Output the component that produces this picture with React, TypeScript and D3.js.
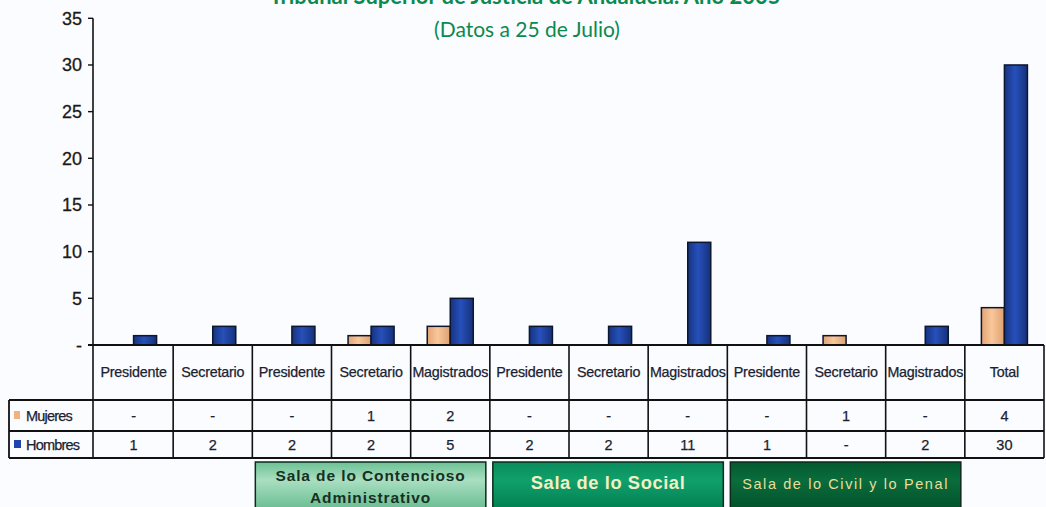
import React from "react";
import * as d3 from "d3";

const categories = ["Presidente","Secretario","Presidente","Secretario","Magistrados","Presidente","Secretario","Magistrados","Presidente","Secretario","Magistrados","Total"];
const mujeres = [0,0,0,1,2,0,0,0,0,1,0,4];
const hombres = [1,2,2,2,5,2,2,11,1,0,2,30];
const seriesNames = ["Mujeres","Hombres"];
const yTicks = [0,5,10,15,20,25,30,35];
const salas = [
  { label: ["Sala de lo Contencioso", "Administrativo"], from: 2, to: 4 },
  { label: ["Sala de lo Social"], from: 5, to: 7 },
  { label: ["Sala de lo Civil y lo Penal"], from: 8, to: 10 },
];
const titleLine1 = "Tribunal Superior de Justicia de Andalucía. Año 2005";
const titleLine2 = "(Datos a 25 de Julio)";

const W = 1046, H = 507;
const x0 = 94, x1 = 1044;
const yZero = 345, yTop = 18.3;
const headerBottom = 400, row1Bottom = 431, row2Bottom = 458;
const legendLeft = 9;

export default function App() {
  const idx = categories.map((_, i) => i);
  const x = d3.scaleBand<number>().domain(idx).range([x0, x1]).paddingInner(0).paddingOuter(0);
  const bw = x.bandwidth();
  const xs = d3.scaleBand<string>().domain(seriesNames).range([0, bw]).paddingInner(0).paddingOuter(0.72);
  const y = d3.scaleLinear().domain([0, 35]).range([yZero, yTop]);
  const fmt = (v: number) => (v === 0 ? "-" : String(v));
  const data = [mujeres, hombres];
  const sansT = "'Liberation Sans', Arial, sans-serif";

  const boxStyles = [
    { grad: "gCont", text: "#17301f", size: 15.5, ls: 0.9, weight: 700 },
    { grad: "gSoc", text: "#f3efc4", size: 18.3, ls: 0.6, weight: 700 },
    { grad: "gCiv", text: "#e6df9c", size: 14.5, ls: 1.6, weight: 400 },
  ];

  return (
    <svg width={W} height={H} style={{ position: "absolute", left: 0, top: 0, background: "#fbfcff" }}>
      <defs>
        <linearGradient id="gH" x1="0" x2="1" y1="0" y2="0">
          <stop offset="0" stopColor="#16337f" />
          <stop offset="0.45" stopColor="#2650bb" />
          <stop offset="1" stopColor="#15317a" />
        </linearGradient>
        <linearGradient id="gM" x1="0" x2="1" y1="0" y2="0">
          <stop offset="0" stopColor="#e2a474" />
          <stop offset="0.45" stopColor="#f8c79a" />
          <stop offset="1" stopColor="#dea070" />
        </linearGradient>
        <linearGradient id="gCont" x1="0" x2="0" y1="0" y2="1">
          <stop offset="0" stopColor="#6cc194" />
          <stop offset="0.35" stopColor="#a9dfc1" />
          <stop offset="1" stopColor="#5fb78a" />
        </linearGradient>
        <linearGradient id="gSoc" x1="0" x2="0" y1="0" y2="1">
          <stop offset="0" stopColor="#0a8c5c" />
          <stop offset="0.35" stopColor="#10a06c" />
          <stop offset="1" stopColor="#007a4e" />
        </linearGradient>
        <linearGradient id="gCiv" x1="0" x2="0" y1="0" y2="1">
          <stop offset="0" stopColor="#035a30" />
          <stop offset="0.35" stopColor="#0a6c3c" />
          <stop offset="1" stopColor="#024e28" />
        </linearGradient>
      </defs>

      {/* Title */}
      <text x={525} y={4} textAnchor="middle" fontFamily="Lato, 'Open Sans', sans-serif" fontWeight={700} fontSize={22} fill="#0a8a4f">{titleLine1}</text>
      <text x={527} y={37} textAnchor="middle" fontFamily="Lato, 'Open Sans', sans-serif" fontSize={21} fill="#0a8a4f">{titleLine2}</text>

      {/* Y axis */}
      <line x1={93} x2={93} y1={y(35)} y2={row2Bottom} stroke="#111" strokeWidth={1.6} />
      {yTicks.map((t) => (
        <g key={t}>
          <line x1={88} x2={93} y1={y(t)} y2={y(t)} stroke="#111" strokeWidth={1.4} />
          <text x={82} y={y(t) + 6.5} textAnchor="end" fontFamily={sansT} fontSize={18} fill="#1a1a1a" stroke="#1a1a1a" strokeWidth={0.3}>{fmt(t)}</text>
        </g>
      ))}

      {/* Bars */}
      {idx.map((i) =>
        seriesNames.map((s, si) => {
          const v = data[si][i];
          if (v === 0) return null;
          const bx = (x(i) as number) + (xs(s) as number);
          return (
            <rect key={i + s} x={bx} y={y(v)} width={xs.bandwidth()} height={yZero - y(v)}
              fill={si === 0 ? "url(#gM)" : "url(#gH)"} stroke="#0c1630" strokeWidth={1.5} />
          );
        })
      )}

      {/* Table */}
      <line x1={88} x2={x1} y1={yZero} y2={yZero} stroke="#111" strokeWidth={1.8} />
      <line x1={legendLeft} x2={x1} y1={headerBottom} y2={headerBottom} stroke="#111" strokeWidth={1.8} />
      <line x1={legendLeft} x2={x1} y1={row1Bottom} y2={row1Bottom} stroke="#111" strokeWidth={2.2} />
      <line x1={legendLeft} x2={x1} y1={row2Bottom} y2={row2Bottom} stroke="#111" strokeWidth={1.8} />
      <line x1={legendLeft} x2={legendLeft} y1={headerBottom} y2={row2Bottom} stroke="#111" strokeWidth={1.8} />
      {idx.map((i) => (
        <line key={"v" + i} x1={(x(i) as number) + bw} x2={(x(i) as number) + bw} y1={yZero} y2={row2Bottom} stroke="#111" strokeWidth={1.6} />
      ))}
      {idx.map((i) => {
        const cx = (x(i) as number) + bw / 2;
        return (
          <g key={"c" + i} fontFamily={sansT} fill="#1a2230" stroke="#1a2230" strokeWidth={0.25}>
            <text x={cx} y={377} textAnchor="middle" fontSize={14.3} letterSpacing={-0.2}>{categories[i]}</text>
            <text x={cx} y={421} textAnchor="middle" fontSize={14.5}>{fmt(mujeres[i])}</text>
            <text x={cx} y={450} textAnchor="middle" fontSize={14.5}>{fmt(hombres[i])}</text>
          </g>
        );
      })}
      {/* Legend */}
      <rect x={14} y={411} width={6} height={8} fill="#f2b27e" />
      <text x={26} y={421} fontFamily={sansT} fontSize={14.5} letterSpacing={-0.8} fill="#1a2230" stroke="#1a2230" strokeWidth={0.25}>Mujeres</text>
      <rect x={14} y={440} width={7} height={8} fill="#1f44b0" />
      <text x={26} y={450} fontFamily={sansT} fontSize={14.5} letterSpacing={-0.8} fill="#1a2230" stroke="#1a2230" strokeWidth={0.25}>Hombres</text>

      {/* Sala boxes */}
      {salas.map((s, k) => {
        const bx0 = (x(s.from) as number) + 3;
        const bx1 = (x(s.to) as number) + bw - 4;
        const st = boxStyles[k];
        const cx = (bx0 + bx1) / 2;
        return (
          <g key={"s" + k}>
            <rect x={bx0} y={462} width={bx1 - bx0} height={52} fill={`url(#${st.grad})`} stroke="#0d2a1a" strokeWidth={1.5} />
            {s.label.length === 2 ? (
              <>
                <text x={cx} y={481} textAnchor="middle" fontFamily={sansT} fontSize={st.size} fontWeight={st.weight} letterSpacing={st.ls} fill={st.text}>{s.label[0]}</text>
                <text x={cx} y={503} textAnchor="middle" fontFamily={sansT} fontSize={st.size} fontWeight={st.weight} letterSpacing={st.ls} fill={st.text}>{s.label[1]}</text>
              </>
            ) : (
              <text x={cx} y={489} textAnchor="middle" fontFamily={sansT} fontSize={st.size} fontWeight={st.weight} letterSpacing={st.ls} fill={st.text}>{s.label[0]}</text>
            )}
          </g>
        );
      })}
    </svg>
  );
}
